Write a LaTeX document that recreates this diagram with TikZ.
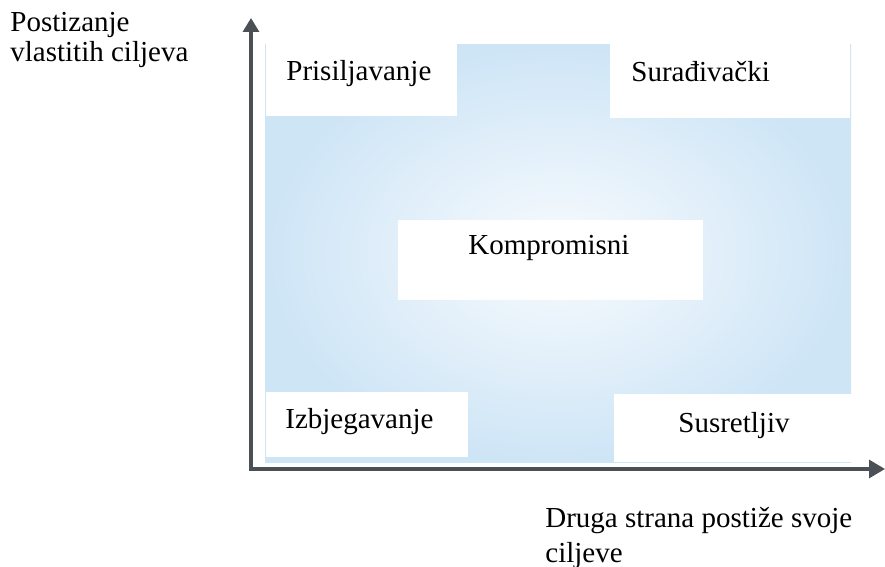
\documentclass[tikz,border=0pt]{standalone}
\usepackage{fontspec}
\setmainfont{Liberation Serif}
\usetikzlibrary{arrows.meta}

\definecolor{axisgray}{RGB}{74,80,86}
\definecolor{edgeblue}{RGB}{206,229,246}
\definecolor{midblue}{RGB}{248,251,254}

\tikzset{
    field/.style={rectangle, fill=white, inner sep=0pt, anchor=north west},
    word/.style={inner sep=0pt, anchor=base west, font=\fontsize{14.5}{15}\selectfont},
    axis/.style={draw=axisgray, line width=1.6pt, line join=miter,
        {Triangle[length=7pt, width=8pt]}-{Triangle[length=8pt, width=9pt]}},
}

\begin{document}
\begin{tikzpicture}[x=0.5pt, y=-0.5pt]
    \useasboundingbox (0, 0) rectangle (885, 567);

    % background field
    \shade[inner color=midblue, outer color=edgeblue] (265, 45) rectangle (851, 462);

    \node (prisbox) at (266, 44)  [field, minimum width=95.5pt, minimum height=36pt] {};
    \node (surbox)  at (610, 44)  [field, minimum width=120pt,  minimum height=37pt] {};
    \node (kompbox) at (398, 220) [field, minimum width=152.5pt, minimum height=40pt] {};
    \node (izbbox)  at (266, 392) [field, minimum width=101pt,  minimum height=32.5pt] {};
    \node (susbox)  at (614, 394) [field, minimum width=119pt,  minimum height=34pt] {};

    \node (pris) at (286, 81)  [word] {Prisiljavanje};
    \node (sur)  at (631, 82)  [word] {Surađivački};
    \node (komp) at (468, 255) [word] {Kompromisni};
    \node (izb)  at (285, 429) [word] {Izbjegavanje};
    \node (sus)  at (678, 432) [word] {Susretljiv};

    % axes
    \coordinate (origin) at (251, 469);
    \coordinate (ytip) at (251, 18);
    \coordinate (xtip) at (885, 469);
    \draw[axis] (ytip) -- (origin) -- (xtip);

    \node (ylabA) at (10, 32)  [word] {Postizanje};
    \node (ylabB) at (10, 62)  [word] {vlastitih ciljeva};
    \node (xlabA) at (545, 527) [word] {Druga strana postiže svoje};
    \node (xlabB) at (545, 562) [word] {ciljeve};
\end{tikzpicture}
\end{document}
